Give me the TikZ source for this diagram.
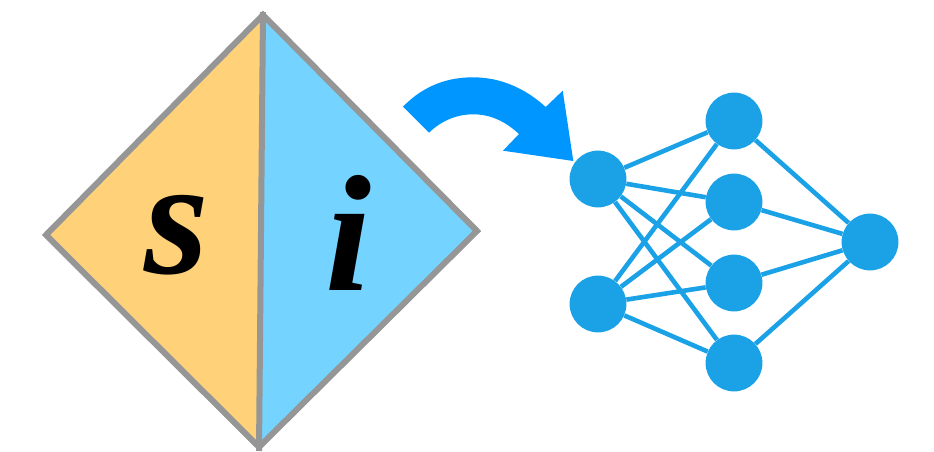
\documentclass[tikz,border=0pt]{standalone}
\usepackage{fontspec}
\newfontfamily\letterfont{Liberation Serif}[ItalicFont={Liberation Serif/BI},BoldFont={Liberation Serif/BI}]
\usepackage{xcolor}
\definecolor{halfs}{HTML}{FFD27A}
\definecolor{halfi}{HTML}{75D3FF}
\definecolor{edgegray}{HTML}{969696}
\definecolor{netblue}{HTML}{1BA1E6}
\definecolor{bendblue}{HTML}{0096FF}
\tikzset{
  halfline/.style={draw=edgegray,line width=0.15cm,line join=miter},
  neuron/.style={circle,fill=netblue,inner sep=0pt,minimum size=1.42cm},
  synapse/.style={netblue,line width=0.115cm},
  letter/.style={anchor=base,inner sep=0pt,font=\fontsize{118}{118}\selectfont\letterfont\itshape},
}
\begin{document}
\begin{tikzpicture}[x=0.025cm,y=-0.025cm]
  \useasboundingbox (0,0) rectangle (934,452);
  % --- square split in two ---
  \coordinate (top) at (263,15);
  \coordinate (lft) at (46,235);
  \coordinate (rgt) at (477,231);
  \coordinate (bot) at (259,447);
  \coordinate (topend) at (263,12);
  \coordinate (botend) at (259,451);
  \fill[halfs] (top) -- (lft) -- (bot) -- cycle;
  \fill[halfi] (top) -- (rgt) -- (bot) -- cycle;
  \draw[halfline] (top) -- (lft) -- (bot) -- (rgt) -- cycle;
  \draw[halfline] (topend) -- (botend);
  \node[letter] (ls) at (177,274) {s};
  \node[letter] (li) at (349,291) {i};
  % --- bent arrow ---
  \fill[bendblue] (403,106.7) .. controls (425,84) and (450,77.3) .. (473,77.3)
     .. controls (500,77.3) and (525,88) .. (545.7,107)
     -- (562.7,90.7) -- (573.3,161) -- (503,150.7) -- (519,134)
     .. controls (505,121) and (490,114.3) .. (473,114.3)
     .. controls (458,114.3) and (442,120) .. (429,132.7) -- cycle;
  % --- network ---
  \foreach \n/\x/\y in {a1/598/179,a2/598/304,b1/734/121,b2/734/202,b3/734/283,b4/734/363,c1/870/242} {
    \node[neuron] (\n) at (\x,\y) {};
  }
  \foreach \a in {a1,a2} {
    \foreach \b in {b1,b2,b3,b4} {
      \draw[synapse] (\a) -- (\b);
    }
  }
  \foreach \b in {b1,b2,b3,b4} {
    \draw[synapse] (\b) -- (c1);
  }
\end{tikzpicture}
\end{document}
